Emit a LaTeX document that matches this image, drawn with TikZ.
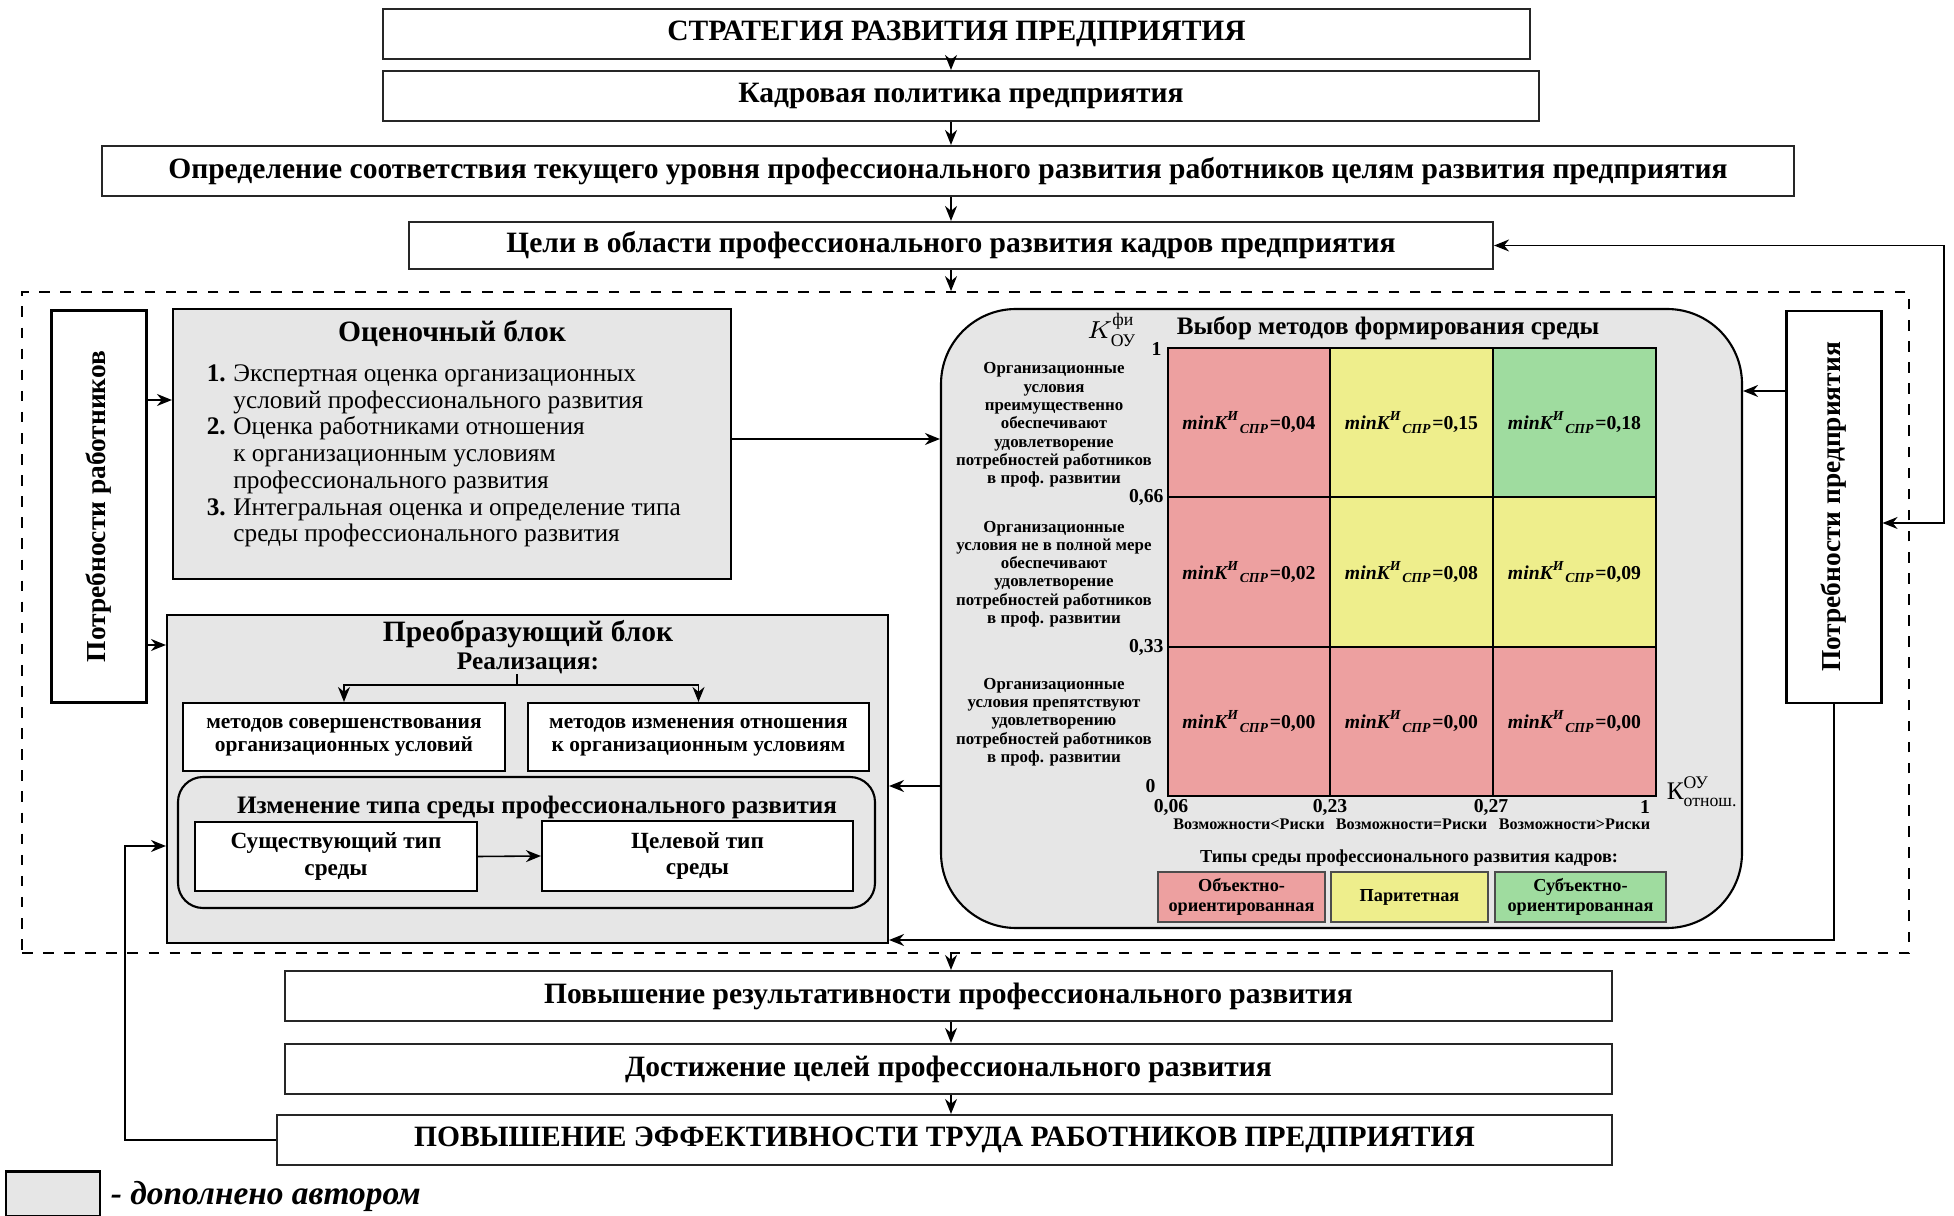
\documentclass[tikz,border=0pt]{standalone}
\usepackage{amsmath}
\usepackage{fontspec}
\setmainfont{Liberation Serif}
\usetikzlibrary{arrows.meta}
\definecolor{blockgray}{HTML}{E6E6E6}
\definecolor{objred}{HTML}{EDA0A0}
\definecolor{paryel}{HTML}{EEEE8C}
\definecolor{subgreen}{HTML}{9FDC9F}
\newcommand{\kspr}[1]{\textit{minK\textsuperscript{И}\textsubscript{СПР}}=#1}

\begin{document}
\begin{tikzpicture}[>={Stealth[length=1.5mm, width=1.2mm]}, line width=0.45pt,
  box/.style={draw, line width=0.6pt, inner sep=0, align=center},
  topbox/.style={box, draw=black!85, fill=white, minimum height=5mm, font=\fontsize{8.4}{9}\selectfont\bfseries},
  sidebox/.style={box, fill=white, minimum width=0.95cm, minimum height=3.92cm, font=\fontsize{7.8}{9}\selectfont\bfseries},
  added/.style={box, fill=blockgray},
  blktitle/.style={inner sep=0, font=\fontsize{8.4}{9}\selectfont\bfseries},
  subbox/.style={box, fill=white, minimum height=0.68cm, font=\fontsize{6.1}{6.6}\selectfont\bfseries},
  envbox/.style={box, fill=white, minimum height=0.69cm, font=\fontsize{6.6}{7.6}\selectfont\bfseries},
  cell/.style={box, minimum width=1.625cm, minimum height=1.495cm, font=\fontsize{5.6}{7}\selectfont\bfseries},
  objc/.style={cell, fill=objred},
  parc/.style={cell, fill=paryel},
  subc/.style={cell, fill=subgreen},
  rowlab/.style={align=center, inner sep=0, font=\fontsize{4.8}{5.2}\selectfont\bfseries},
  tick/.style={inner sep=0.5pt, font=\fontsize{5.6}{6}\selectfont\bfseries},
  axlab/.style={inner sep=0, font=\fontsize{4.6}{5.5}\selectfont\bfseries},
  legbox/.style={draw=black!70, line width=0.5pt, inner sep=0, align=center, minimum height=0.5cm, font=\fontsize{5.2}{5.8}\selectfont\bfseries}]
\useasboundingbox (0,0) rectangle (19.54,-12.16);
\coordinate (ax) at (9.51,0);
% Dashed frame around the two blocks
\node[draw, dashed, line width=0.5pt, minimum width=18.87cm, minimum height=6.61cm, inner sep=0] (frame) at (9.655,-6.225) {};
% Top chain
\node[topbox, minimum width=11.47cm] (strat) at (9.565,-0.34) {СТРАТЕГИЯ РАЗВИТИЯ ПРЕДПРИЯТИЯ};
\node[topbox, minimum width=11.56cm] (kadr)  at (9.61,-0.96)  {Кадровая политика предприятия};
\node[topbox, minimum width=16.92cm] (opred) at (9.48,-1.71)  {Определение соответствия текущего уровня профессионального развития работников целям развития предприятия};
\node[topbox, minimum width=10.84cm, minimum height=4.7mm] (celi) at (9.51,-2.455) {Цели в области профессионального развития кадров предприятия};
\draw[->] (ax |- strat.south) -- (ax |- kadr.north);
\draw[->] (ax |- kadr.south)  -- (ax |- opred.north);
\draw[->] (ax |- opred.south) -- (ax |- celi.north);
\draw[->] (ax |- celi.south)  -- (ax |- frame.north);
% Needs on both sides
\node[sidebox] (potrR) at (0.99,-5.065) {\rotatebox{90}{Потребности работников}};
\node[sidebox] (potrP) at (18.34,-5.07) {\rotatebox{90}{Потребности предприятия}};
% Assessment block
\node[added, minimum width=5.58cm, minimum height=2.70cm] (ocen) at (4.52,-4.44) {};
\node[blktitle] (ocenT) at (4.52,-3.34) {Оценочный блок};
\node[anchor=north west, inner sep=0, font=\fontsize{7.2}{7.6}\selectfont] (ocenL) at (2.06,-3.62) {%
  \begin{tabular}{@{}r@{\hspace{0.3em}}l@{}}
  \textbf{1.} & Экспертная оценка организационных\\
              & условий профессионального развития\\
  \textbf{2.} & Оценка работниками отношения\\
              & к организационным условиям\\
              & профессионального развития\\
  \textbf{3.} & Интегральная оценка и определение типа\\
              & среды профессионального развития
  \end{tabular}};
% Transforming block
\node[added, minimum width=7.21cm, minimum height=3.28cm] (preob) at (5.275,-7.79) {};
\node[blktitle] (preobT) at (5.28,-6.34) {Преобразующий блок};
\node[inner sep=0, font=\fontsize{7.2}{8}\selectfont\bfseries] (real) at (5.28,-6.63) {Реализация:};
\coordinate (br) at (5.17,-6.85);
\node[subbox, minimum width=3.22cm] (subL) at (3.44,-7.37) {методов совершенствования\\организационных условий};
\node[subbox, minimum width=3.41cm] (subR) at (6.985,-7.37) {методов изменения отношения\\к организационным условиям};
\draw (br |- real.south) -- (br);
\draw[->] (br) -| (subL.north);
\draw[->] (br) -| (subR.north);
\node[draw, line width=0.6pt, rounded corners=2.5mm, minimum width=6.97cm, minimum height=1.31cm, inner sep=0] (chg) at (5.265,-8.425) {};
\node[inner sep=0, font=\fontsize{7.15}{8}\selectfont\bfseries] (chgT) at (5.37,-8.07) {Изменение типа среды профессионального развития};
\node[envbox, minimum width=2.82cm] (exist)  at (3.36,-8.565) {Существующий тип\\среды};
\node[envbox, minimum width=3.11cm, minimum height=0.70cm] (target) at (6.975,-8.56) {Целевой тип\\среды};
\draw[->] (exist.east) -- (target.west);
% Choice of methods
\node[added, rounded corners=7.5mm, minimum width=8.01cm, minimum height=6.19cm] (matr) at (13.415,-6.185) {};
\node[inner sep=0, font=\fontsize{7.15}{8}\selectfont\bfseries] (matrT) at (13.88,-3.28) {Выбор методов формирования среды};
\node[inner sep=0, font=\fontsize{7.2}{8}\selectfont] (kfi) at (11.12,-3.30) {$K^{\text{фи}}_{\text{ОУ}}$};
\node[objc] (c11) at (12.49,-4.225)  {\kspr{0,04}};
\node[parc] (c12) at (14.115,-4.225) {\kspr{0,15}};
\node[subc] (c13) at (15.745,-4.225) {\kspr{0,18}};
\node[objc] (c21) at (12.49,-5.72)   {\kspr{0,02}};
\node[parc] (c22) at (14.115,-5.72)  {\kspr{0,08}};
\node[parc] (c23) at (15.745,-5.72)  {\kspr{0,09}};
\node[objc] (c31) at (12.49,-7.215)  {\kspr{0,00}};
\node[objc] (c32) at (14.115,-7.215) {\kspr{0,00}};
\node[objc] (c33) at (15.745,-7.215) {\kspr{0,00}};
\node[rowlab] (row1) at (10.54,-4.25) {Организационные\\условия\\преимущественно\\обеспечивают\\удовлетворение\\потребностей работников\\в проф. развитии};
\node[rowlab] (row2) at (10.54,-5.74) {Организационные\\условия не в полной мере\\обеспечивают\\удовлетворение\\потребностей работников\\в проф. развитии};
\node[rowlab] (row3) at (10.54,-7.22) {Организационные\\условия препятствуют\\удовлетворению\\потребностей работников\\в проф. развитии};
\node[tick, anchor=east] (y1)  at (11.64,-3.49) {1};
\node[tick, anchor=east] (y66) at (11.66,-4.97) {0,66};
\node[tick, anchor=east] (y33) at (11.66,-6.47) {0,33};
\node[tick, anchor=east] (y0)  at (11.58,-7.86) {0};
\node[tick, anchor=north] (x06) at (11.71,-7.97) {0,06};
\node[tick, anchor=north] (x23) at (13.30,-7.97) {0,23};
\node[tick, anchor=north] (x27) at (14.91,-7.97) {0,27};
\node[tick, anchor=north] (x1)  at (16.45,-7.98) {1};
\node[inner sep=0, anchor=west, font=\fontsize{7.2}{8}\selectfont] (kotn) at (16.66,-7.92) {$\text{К}^{\text{ОУ}}_{\text{отнош.}}$};
\node[axlab] (ax1) at (12.49,-8.24)  {Возможности<Риски};
\node[axlab] (ax2) at (14.115,-8.24) {Возможности=Риски};
\node[axlab] (ax3) at (15.745,-8.24) {Возможности>Риски};
\node[inner sep=0, font=\fontsize{5.2}{6}\selectfont\bfseries] (legT) at (14.09,-8.58) {Типы среды профессионального развития кадров:};
\node[legbox, fill=objred, minimum width=1.67cm]   (leg1) at (12.415,-8.97) {Объектно-\\ориентированная};
\node[legbox, fill=paryel, minimum width=1.57cm]   (leg2) at (14.095,-8.97) {Паритетная};
\node[legbox, fill=subgreen, minimum width=1.71cm] (leg3) at (15.805,-8.97) {Субъектно-\\ориентированная};
% Links inside the frame
\coordinate (yA) at (0,-4.00);
\coordinate (yB) at (0,-6.45);
\coordinate (yO) at (0,-4.39);
\coordinate (yP) at (0,-3.91);
\coordinate (yM) at (0,-7.86);
\coordinate (yQ) at (0,-9.40);
\draw[->] (potrR.east |- yA) -- (ocen.west |- yA);
\draw[->] (potrR.east |- yB) -- (preob.west |- yB);
\draw[->] (ocen.east |- yO) -- (matr.west |- yO);
\draw[->] (potrP.west |- yP) -- (matr.east |- yP);
\draw[->] (matr.west |- yM) -- (preob.east |- yM);
\draw[->] (potrP.south) |- (preob.east |- yQ);
\coordinate (rr) at (19.44,-5.23);
\draw[<->] (celi.east) -| (rr) -- (potrP.east |- rr);
% Results
\node[topbox, minimum width=13.27cm] (res1) at (9.485,-9.96)  {Повышение результативности профессионального развития};
\node[topbox, minimum width=13.27cm] (res2) at (9.485,-10.69) {Достижение целей профессионального развития};
\node[topbox, minimum width=13.35cm] (res3) at (9.445,-11.40) {ПОВЫШЕНИЕ ЭФФЕКТИВНОСТИ ТРУДА РАБОТНИКОВ ПРЕДПРИЯТИЯ};
\draw[->] (ax |- frame.south) -- (ax |- res1.north);
\draw[->] (ax |- res1.south)  -- (ax |- res2.north);
\draw[->] (ax |- res2.south)  -- (ax |- res3.north);
\coordinate (fb) at (1.25,-8.46);
\draw[->] (res3.west) -| (fb) -- (preob.west |- fb);
% Legend
\node[draw, line width=0.6pt, fill=blockgray, minimum width=0.94cm, minimum height=0.45cm, inner sep=0] (legG) at (0.53,-11.94) {};
\node[anchor=west, inner sep=0, font=\fontsize{9.5}{11}\selectfont\bfseries\itshape] (legTxt) at (1.1,-11.96) {- дополнено автором};
\end{tikzpicture}
\end{document}
